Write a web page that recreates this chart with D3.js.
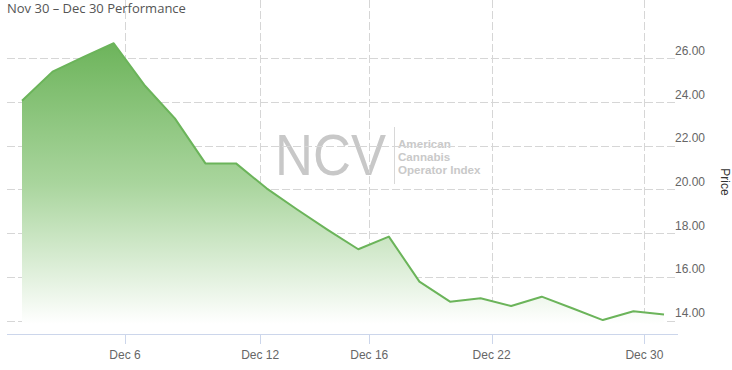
<!DOCTYPE html>
<html>
<head>
<meta charset="utf-8">
<script src="https://cdn.jsdelivr.net/npm/d3@7"></script>
<style>
  body { margin: 0; background: #fff; }
  svg { display: block; font-family: "Liberation Sans", Arial, sans-serif; }
</style>
</head>
<body>
<div id="chart"></div>
<script>
'use strict';

// trading days Nov 30 - Dec 30
const dates  = ['Nov 30', 'Dec 1', 'Dec 2', 'Dec 3', 'Dec 4', 'Dec 7', 'Dec 8', 'Dec 9', 'Dec 10', 'Dec 11',
                'Dec 14', 'Dec 15', 'Dec 16', 'Dec 17', 'Dec 18', 'Dec 21', 'Dec 22', 'Dec 23', 'Dec 24',
                'Dec 28', 'Dec 29', 'Dec 30'];
const prices = [24.06, 25.39, 26.05, 26.69, 24.78, 23.25, 21.19, 21.19, 20.05, 19.08,
                18.15, 17.26, 17.84, 15.78, 14.86, 15.02, 14.66, 15.09, 14.56,
                14.02, 14.42, 14.28];

const tickLabels = ['Dec 6', 'Dec 12', 'Dec 16', 'Dec 22', 'Dec 30'];
const tickIndex  = [3.37, 7.79, 11.36, 15.36, 20.36];
const yTicks     = [14, 16, 18, 20, 22, 24, 26];

const W = 732, H = 370;
const plotL = 7, plotR = 678, plotT = 0, plotB = 334;

const svg = d3.select('#chart').append('svg')
    .attr('width', W)
    .attr('height', H);

const x = d3.scaleLinear().domain([0, dates.length - 1]).range([22, 664]);
const y = d3.scaleLinear().domain([14, 26]).range([320.5, 58.3]);

// gradient for the area
const grad = svg.append('defs').append('linearGradient')
    .attr('id', 'fillGrad')
    .attr('gradientUnits', 'userSpaceOnUse')
    .attr('x1', 0).attr('x2', 0)
    .attr('y1', y(d3.max(prices))).attr('y2', plotB - 10);
grad.append('stop').attr('offset', 0).attr('stop-color', '#6db45b');
grad.append('stop').attr('offset', 0.5).attr('stop-color', '#a9d59d');
grad.append('stop').attr('offset', 1).attr('stop-color', '#ffffff');

// watermark
const wm = svg.append('g');
wm.append('text')
    .attr('x', 275).attr('y', 175)
    .style('font-size', '57px')
    .attr('textLength', 111)
    .attr('lengthAdjust', 'spacingAndGlyphs')
    .attr('fill', '#c8c8c8')
    .text('NCV');
wm.append('line')
    .attr('x1', 394.5).attr('x2', 394.5)
    .attr('y1', 127).attr('y2', 184)
    .attr('stroke', '#d8d8d8');
['American', 'Cannabis', 'Operator Index'].forEach((t, i) => {
    wm.append('text')
        .attr('x', 398).attr('y', 147.5 + i * 13.3)
        .style('font-size', '11.6px')
        .style('font-weight', 'bold')
        .attr('fill', '#c9c9c9')
        .text(t);
});

// grid
const grid = svg.append('g')
    .attr('stroke', '#d6d6d6')
    .attr('stroke-dasharray', '8,3')
    .attr('fill', 'none');
grid.selectAll('.hg')
    .data(yTicks)
    .enter().append('line')
    .attr('x1', plotL).attr('x2', plotR)
    .attr('y1', d => Math.round(y(d)) + 0.5)
    .attr('y2', d => Math.round(y(d)) + 0.5);
grid.selectAll('.vg')
    .data(tickIndex)
    .enter().append('line')
    .attr('y1', plotT).attr('y2', plotB)
    .attr('x1', d => Math.round(x(d)) + 0.5)
    .attr('x2', d => Math.round(x(d)) + 0.5);

// area and line
const area = d3.area()
    .x((d, i) => x(i))
    .y0(plotB)
    .y1(d => y(d));
const line = d3.line()
    .x((d, i) => x(i))
    .y(d => y(d));

svg.append('path')
    .datum(prices)
    .attr('d', area)
    .attr('fill', 'url(#fillGrad)');
svg.append('path')
    .datum(prices)
    .attr('d', line)
    .attr('fill', 'none')
    .attr('stroke', '#6bb45a')
    .attr('stroke-width', 2)
    .attr('stroke-linejoin', 'round');

// x axis
svg.append('line')
    .attr('x1', plotL).attr('x2', plotR)
    .attr('y1', plotB + 0.5).attr('y2', plotB + 0.5)
    .attr('stroke', '#ccd6eb');
const xa = svg.append('g');
xa.selectAll('line')
    .data(tickIndex)
    .enter().append('line')
    .attr('x1', d => Math.round(x(d)) + 0.5)
    .attr('x2', d => Math.round(x(d)) + 0.5)
    .attr('y1', plotB).attr('y2', plotB + 10)
    .attr('stroke', '#ccd6eb');
xa.selectAll('text')
    .data(tickIndex)
    .enter().append('text')
    .attr('x', d => x(d))
    .attr('y', 359)
    .attr('text-anchor', 'middle')
    .style('font-size', '12px')
    .attr('fill', '#666')
    .text((d, i) => tickLabels[i]);

// y axis labels (right)
svg.append('g').selectAll('text')
    .data(yTicks)
    .enter().append('text')
    .attr('x', 675)
    .attr('y', d => y(d) - 3.5)
    .style('font-size', '12px')
    .attr('fill', '#666')
    .text(d => d.toFixed(2));

svg.append('text')
    .attr('transform', 'translate(721,182) rotate(90)')
    .attr('text-anchor', 'middle')
    .style('font-size', '12px')
    .attr('fill', '#333')
    .text('Price');

// title
svg.append('text')
    .attr('x', 7).attr('y', 13)
    .style('font-family', '"Open Sans", sans-serif')
    .style('font-size', '13px')
    .attr('fill', '#555')
    .text('Nov 30 – Dec 30 Performance');
</script>
</body>
</html>
